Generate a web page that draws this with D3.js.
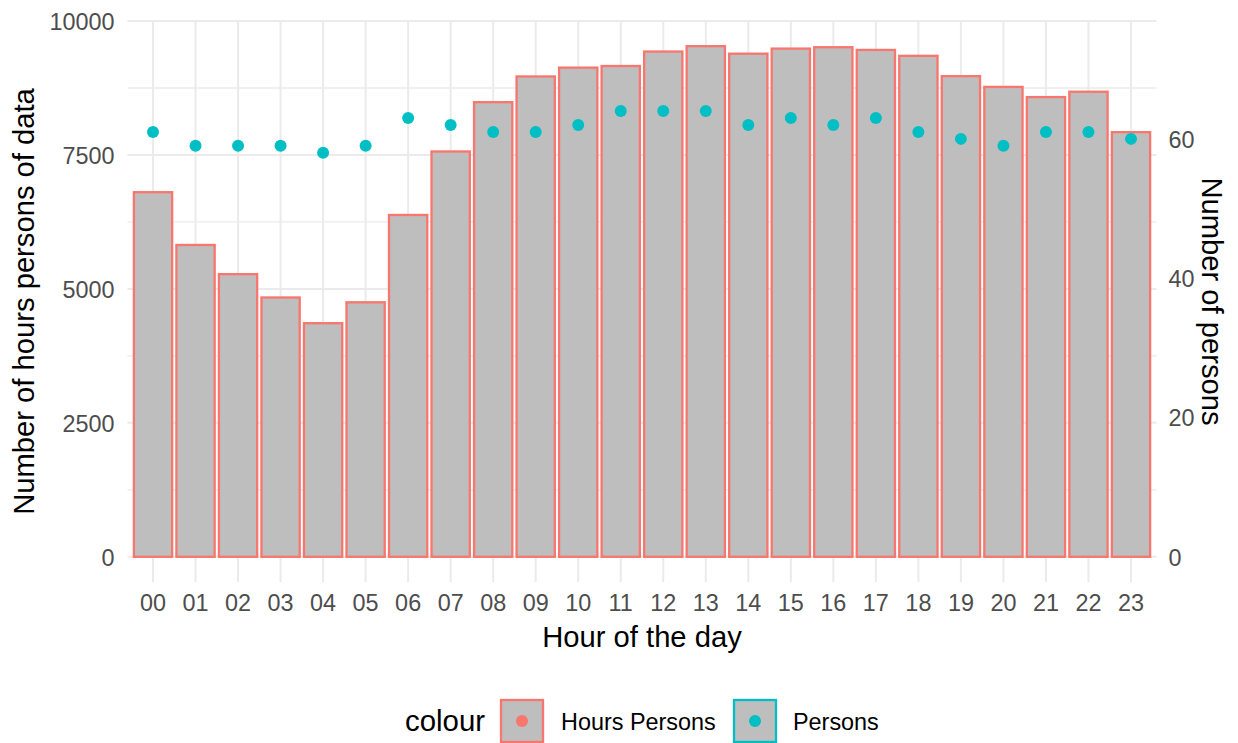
<!DOCTYPE html>
<html>
<head>
<meta charset="utf-8">
<script src="https://cdn.jsdelivr.net/npm/d3@7"></script>
<style>
  body { margin: 0; background: #fff; }
  text { font-family: "Liberation Sans", Arial, sans-serif; }
</style>
</head>
<body>
<div id="chart"></div>
<script>
// hours of the day
const hours = ["00","01","02","03","04","05","06","07","08","09","10","11",
               "12","13","14","15","16","17","18","19","20","21","22","23"];
// number of hours persons of data (bars)
const hoursPersons = [6805, 5820, 5275, 4840, 4360, 4750, 6380, 7565, 8485, 8965, 9130, 9160,
                      9430, 9530, 9390, 9485, 9510, 9460, 9350, 8970, 8770, 8580, 8680, 7925];
// number of persons (points, secondary axis)
const persons = [61, 59, 59, 59, 58, 59, 63, 62, 61, 61, 62, 64,
                 64, 64, 62, 63, 62, 63, 61, 60, 59, 61, 61, 60];
const leftTicks = [0, 2500, 5000, 7500, 10000];
const leftMinor = [1250, 3750, 6250, 8750];
const rightTicks = [0, 20, 40, 60];
const secScale = 130;

const width = 1238, height = 743;
const panel = {left: 127.5, right: 1156.5, top: 21, bottom: 582};
const midY = (panel.top + panel.bottom) / 2;

const svg = d3.select("#chart").append("svg")
  .attr("width", width)
  .attr("height", height);

const x = d3.scaleBand()
  .domain(hours)
  .range([panel.left, panel.right])
  .paddingInner(0.1)
  .paddingOuter(0.15);

const y = d3.scaleLinear()
  .domain([-470, 10000])
  .range([panel.bottom, panel.top]);

const y2 = d3.scaleLinear()
  .domain(y.domain().map(d => d / secScale))
  .range([panel.bottom, panel.top]);

const grid = svg.append("g");
// minor horizontal grid
grid.selectAll(".minor").data(leftMinor).join("line")
  .attr("x1", panel.left).attr("x2", panel.right)
  .attr("y1", d => y(d)).attr("y2", d => y(d))
  .attr("stroke", "#EBEBEB").attr("stroke-width", 1.3);
// major horizontal grid
grid.selectAll(".major").data(leftTicks).join("line")
  .attr("x1", panel.left).attr("x2", panel.right)
  .attr("y1", d => y(d)).attr("y2", d => y(d))
  .attr("stroke", "#EBEBEB").attr("stroke-width", 2);
// vertical grid
grid.selectAll(".vert").data(hours).join("line")
  .attr("x1", d => x(d) + x.bandwidth() / 2).attr("x2", d => x(d) + x.bandwidth() / 2)
  .attr("y1", panel.top).attr("y2", panel.bottom)
  .attr("stroke", "#EBEBEB").attr("stroke-width", 2);

// bars
svg.append("g").selectAll("rect").data(hours).join("rect")
  .attr("x", d => x(d))
  .attr("width", x.bandwidth())
  .attr("y", (d, i) => y(hoursPersons[i]))
  .attr("height", (d, i) => y(0) - y(hoursPersons[i]))
  .attr("fill", "#BEBEBE")
  .attr("stroke", "#F8766D")
  .attr("stroke-width", 2.3);

// points
svg.append("g").selectAll("circle").data(hours).join("circle")
  .attr("cx", d => x(d) + x.bandwidth() / 2)
  .attr("cy", (d, i) => y2(persons[i]))
  .attr("r", 6)
  .attr("fill", "#00BFC4");

// axes
const tickColor = "#4D4D4D";
const axL = svg.append("g")
  .attr("transform", `translate(${panel.left},0)`)
  .call(d3.axisLeft(y).tickValues(leftTicks).tickFormat(d3.format("d")).tickSize(0).tickPadding(13));
const axR = svg.append("g")
  .attr("transform", `translate(${panel.right},0)`)
  .call(d3.axisRight(y2).tickValues(rightTicks).tickFormat(d3.format("d")).tickSize(0).tickPadding(12));
const axB = svg.append("g")
  .attr("transform", `translate(0,${panel.bottom})`)
  .call(d3.axisBottom(x).tickSize(0).tickPadding(12));
[axL, axR, axB].forEach(a => {
  a.select(".domain").remove();
  a.selectAll("text").attr("fill", tickColor).attr("font-size", 23.4)
    .style("font-family", "Liberation Sans, Arial, sans-serif");
});
axL.selectAll("text").attr("dy", "0.36em");
axR.selectAll("text").attr("dy", "0.36em");

// axis titles
svg.append("text")
  .attr("x", (panel.left + panel.right) / 2)
  .attr("y", 647)
  .attr("text-anchor", "middle")
  .attr("font-size", 29.2)
  .text("Hour of the day");

svg.append("text")
  .attr("transform", `translate(34,${midY}) rotate(-90)`)
  .attr("text-anchor", "middle")
  .attr("font-size", 29.2)
  .text("Number of hours persons of data");

svg.append("text")
  .attr("transform", `translate(1202,${midY}) rotate(90)`)
  .attr("text-anchor", "middle")
  .attr("font-size", 29.2)
  .text("Number of persons");

// legend
const legend = svg.append("g");
legend.append("text")
  .attr("x", 405).attr("y", 731)
  .attr("font-size", 29.4)
  .text("colour");

const legendItems = [
  {label: "Hours Persons", color: "#F8766D", kx: 501, tx: 561},
  {label: "Persons", color: "#00BFC4", kx: 734, tx: 793}
];
legendItems.forEach(it => {
  legend.append("rect")
    .attr("x", it.kx).attr("y", 700)
    .attr("width", 42).attr("height", 42)
    .attr("fill", "#BEBEBE")
    .attr("stroke", it.color).attr("stroke-width", 2.3);
  legend.append("circle")
    .attr("cx", it.kx + 21).attr("cy", 721)
    .attr("r", 6).attr("fill", it.color);
  legend.append("text")
    .attr("x", it.tx).attr("y", 730)
    .attr("font-size", 23.4)
    .text(it.label);
});
</script>
</body>
</html>
